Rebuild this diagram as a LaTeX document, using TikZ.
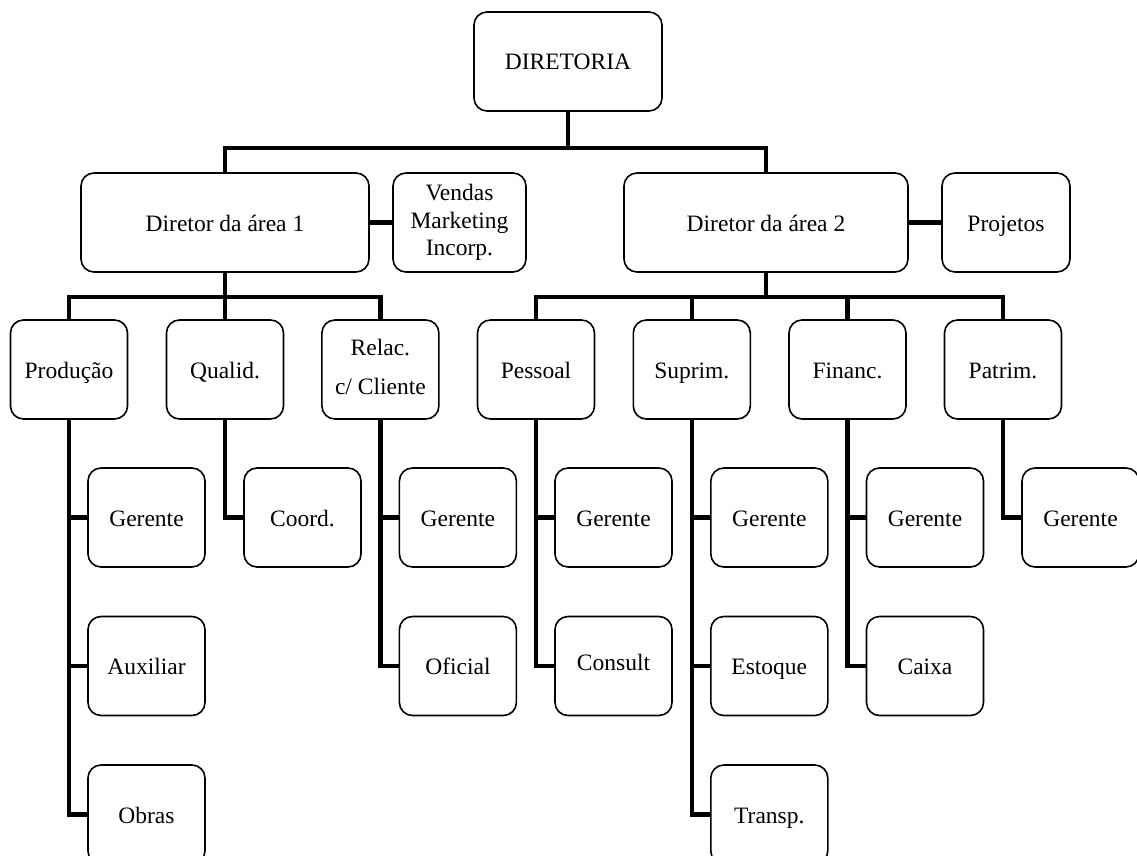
\documentclass[tikz,border=0pt]{standalone}
\usepackage{fontspec}
\setmainfont{Liberation Serif}
\newcommand\boxstrut{\rule[-5.25pt]{0pt}{27.5pt}}
\begin{document}
\begin{tikzpicture}[x=1pt,y=-1pt,
  box/.style={draw, line width=1.6pt, rounded corners=13pt, minimum width=117pt,
    minimum height=99pt, inner sep=0pt, align=center,
    font=\fontsize{23.5}{27.5}\selectfont},
  one/.style={box, execute at begin node={\boxstrut}},
  conn/.style={line width=4.6pt}]
\useasboundingbox (0,0) rectangle (1137,856);
\clip (0,0) rectangle (1137,856);
% top
\node[one, minimum width=188pt] (dir) at (568,61.5) {DIRETORIA};
\node[one, minimum width=288pt] (d1) at (225,222.5) {Diretor da área 1};
\node[box, minimum width=133pt] (ven) at (459.5,222.5) {\strut Vendas\\\strut Marketing\\\strut Incorp.};
\node[one, minimum width=284pt] (d2) at (766,222.5) {Diretor da área 2};
\node[one, minimum width=128pt] (proj) at (1006,222.5) {Projetos};
% level 3
\node[one] (prod) at (69,369.5) {Produção};
\node[one] (qual) at (225,369.5) {Qualid.};
\node[box] (rel) at (380.4,369.5) {\strut Relac.\\[12pt]\strut c/ Cliente};
\node[one] (pess) at (536,369.5) {Pessoal};
\node[one] (supr) at (691.8,369.5) {Suprim.};
\node[one] (fin) at (847.5,369.5) {Financ.};
\node[one] (patr) at (1003,369.5) {Patrim.};
% level 4
\node[one] (prodg) at (146.5,517.5) {Gerente};
\node[one] (proda) at (146.5,666) {Auxiliar};
\node[one] (prodo) at (146.5,814.5) {Obras};
\node[one] (qualc) at (302.5,517.5) {Coord.};
\node[one] (relg) at (457.9,517.5) {Gerente};
\node[one] (relo) at (457.9,666) {Oficial};
\node[one] (pessg) at (613.5,517.5) {Gerente};
\node[one] (pessc) at (613.5,666) {\raisebox{4pt}{Consult}};
\node[one] (suprg) at (769.3,517.5) {Gerente};
\node[one] (supre) at (769.3,666) {Estoque};
\node[one] (suprt) at (769.3,814.5) {Transp.};
\node[one] (fing) at (925,517.5) {Gerente};
\node[one] (finc) at (925,666) {Caixa};
\node[one] (patrg) at (1080.5,517.5) {Gerente};
% bus coordinates
\coordinate (b0) at (568,148);
\coordinate (b1) at (225,297);
\coordinate (b2) at (766,297);
% connectors
\draw[conn] (dir.south) -- (b0);
\draw[conn] (d1.north) |- (b0) -| (d2.north);
\draw[conn] (d1.east) -- (ven.west);
\draw[conn] (d2.east) -- (proj.west);
\draw[conn] (d1.south) -- (b1);
\draw[conn] (prod.north) |- (b1) -| (rel.north);
\draw[conn] (b1) -- (qual.north);
\draw[conn] (d2.south) -- (b2);
\draw[conn] (pess.north) |- (b2) -| (patr.north);
\draw[conn] (supr.north) -- (supr.north |- b2);
\draw[conn] (fin.north) -- (fin.north |- b2);
\draw[conn] (prod.south) |- (prodg.west);
\draw[conn] (prod.south) |- (proda.west);
\draw[conn] (prod.south) |- (prodo.west);
\draw[conn] (qual.south) |- (qualc.west);
\draw[conn] (rel.south) |- (relg.west);
\draw[conn] (rel.south) |- (relo.west);
\draw[conn] (pess.south) |- (pessg.west);
\draw[conn] (pess.south) |- (pessc.west);
\draw[conn] (supr.south) |- (suprg.west);
\draw[conn] (supr.south) |- (supre.west);
\draw[conn] (supr.south) |- (suprt.west);
\draw[conn] (fin.south) |- (fing.west);
\draw[conn] (fin.south) |- (finc.west);
\draw[conn] (patr.south) |- (patrg.west);
\end{tikzpicture}
\end{document}
